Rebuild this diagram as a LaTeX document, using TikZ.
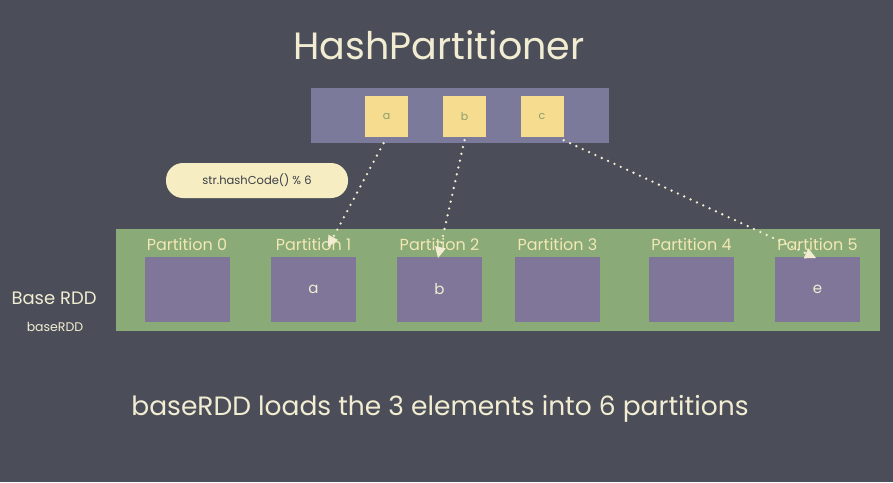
\documentclass[tikz,border=0pt]{standalone}
\usepackage{fontspec}
\setmainfont{Poppins}
\usetikzlibrary{arrows.meta}
\definecolor{bg}{HTML}{4B4E59}
\definecolor{chalk}{HTML}{F2EDD2}
\definecolor{topbar}{HTML}{7C7A9A}
\definecolor{ybox}{HTML}{F5DC8E}
\definecolor{yletter}{HTML}{8AA070}
\definecolor{pill}{HTML}{F6EEC2}
\definecolor{band}{HTML}{8AAA78}
\definecolor{pbox}{HTML}{7F769A}
\definecolor{plabel}{HTML}{F2E8B4}
\begin{document}
\begin{tikzpicture}[x=1pt,y=-1pt,
  keybox/.style={fill=ybox, draw=none, minimum width=43pt, minimum height=41pt, inner sep=0pt, text=yletter, font=\fontsize{11}{12}\selectfont},
  partbox/.style={fill=pbox, draw=none, minimum width=85pt, minimum height=65pt, inner sep=0pt, text=chalk, font=\fontsize{15}{16}\selectfont},
  partlabel/.style={text=plabel, inner sep=0pt, font=\fontsize{16}{17}\selectfont},
  chalktext/.style={text=chalk, inner sep=0pt},
  dotarrow/.style={draw=chalk, line width=2.6pt, line cap=round, dash pattern=on 0pt off 7pt,
    -{Triangle[length=11pt,width=11pt,fill=chalk,line width=0pt]}}
]
\fill[bg] (0,0) rectangle (893,482);
\useasboundingbox (0,0) rectangle (893,482);

\node[chalktext, font=\fontsize{38}{40}\selectfont] (title) at (439,45) {HashPartitioner};

\node[fill=topbar, minimum width=298pt, minimum height=55pt, inner sep=0pt] (hp) at (460,115.5) {};
\node[keybox] (ya) at (386.5,116.5) {\raisebox{-4pt}{a}};
\node[keybox] (yb) at (464.5,116.5) {\raisebox{-4pt}{b}};
\node[keybox] (yc) at (542,116.5) {\raisebox{-4pt}{c}};

\node[fill=pill, rounded corners=17pt, minimum width=182pt, minimum height=35pt, inner sep=0pt,
  text=bg!80!black, font=\fontsize{11.5}{13}\selectfont] (hash) at (257,180.5) {str.hashCode() \% 6};

\node[fill=band, minimum width=764pt, minimum height=102pt, inner sep=0pt] (rdd) at (498,280) {};

\foreach \i/\x/\t in {0/187/{}, 1/313.5/a, 2/439.5/b, 3/557.5/{}, 4/691.5/{}, 5/817.5/e} {
  \node[partbox] (p\i) at (\x,289.5) {\t};
  \node[partlabel] (l\i) at (\x,244.5) {Partition \i};
}

\node[chalktext, font=\fontsize{18}{20}\selectfont] (base) at (54,298) {Base RDD};
\node[chalktext, font=\fontsize{12.5}{14}\selectfont] (basename) at (55,327) {baseRDD};

\node[chalktext, font=\fontsize{26.5}{29}\selectfont] (caption) at (440,409) {baseRDD loads the 3 elements into 6 partitions};

\coordinate (t1) at (328,247);
\coordinate (t2) at (438,258);
\coordinate (t5) at (816,258);
\draw[dotarrow] ([xshift=-3pt,yshift=-6pt]ya.south) -- (t1);
\draw[dotarrow] ([yshift=-3pt]yb.south) -- (t2);
\draw[dotarrow] ([yshift=-3pt]yc.south east) -- (t5);
\end{tikzpicture}
\end{document}
